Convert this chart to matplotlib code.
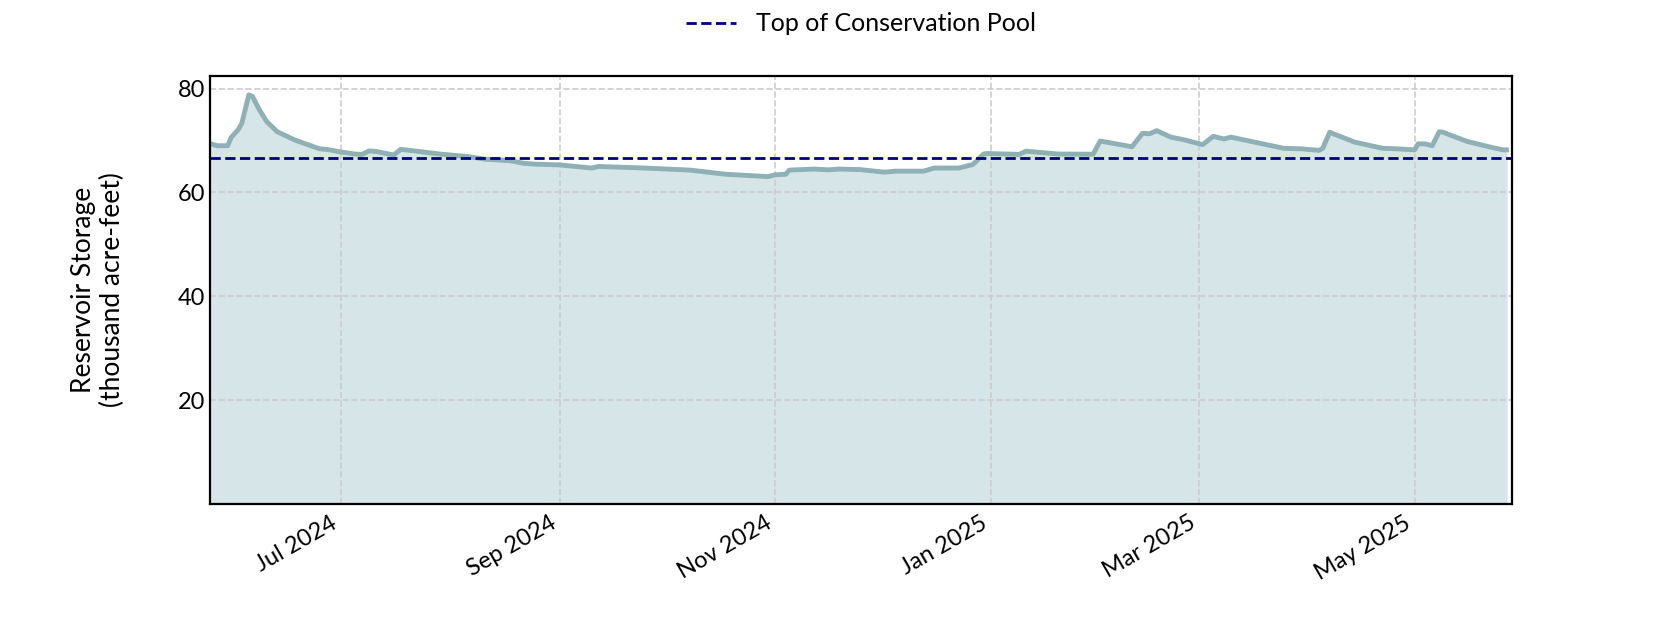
import numpy as np
import pandas as pd
import matplotlib
matplotlib.use('Agg')
import matplotlib.pyplot as plt
import matplotlib.dates as mdates

# storage (thousand acre-feet)
dates = [
    '2024-05-25', '2024-05-27', '2024-05-30', '2024-05-31', '2024-06-02', '2024-06-03',
    '2024-06-05', '2024-06-06', '2024-06-08', '2024-06-10', '2024-06-13', '2024-06-18',
    '2024-06-25', '2024-06-27', '2024-07-01', '2024-07-05', '2024-07-07', '2024-07-09',
    '2024-07-11', '2024-07-16', '2024-07-18', '2024-07-23', '2024-07-29', '2024-08-06',
    '2024-08-11', '2024-08-18', '2024-08-22', '2024-08-25', '2024-09-01', '2024-09-10',
    '2024-09-12', '2024-09-25', '2024-10-08', '2024-10-18', '2024-10-30', '2024-11-01',
    '2024-11-04', '2024-11-05', '2024-11-12', '2024-11-16', '2024-11-19', '2024-11-25',
    '2024-12-02', '2024-12-05', '2024-12-13', '2024-12-16', '2024-12-23', '2024-12-27',
    '2024-12-30', '2024-12-31', '2025-01-08', '2025-01-09', '2025-01-11', '2025-01-20',
    '2025-01-30', '2025-02-01', '2025-02-10', '2025-02-13', '2025-02-15', '2025-02-17',
    '2025-02-21', '2025-02-25', '2025-03-02', '2025-03-05', '2025-03-08', '2025-03-10',
    '2025-03-18', '2025-03-25', '2025-03-30', '2025-04-04', '2025-04-05', '2025-04-07',
    '2025-04-08', '2025-04-14', '2025-04-22', '2025-04-26', '2025-05-01', '2025-05-02',
    '2025-05-04', '2025-05-06', '2025-05-08', '2025-05-09', '2025-05-16', '2025-05-23',
    '2025-05-26', '2025-05-27',
]
storage = [
    69.4, 69.0, 69.0, 70.6, 72.1, 73.3,
    78.8, 78.5, 75.9, 73.7, 71.7, 70.1,
    68.4, 68.3, 67.8, 67.4, 67.3, 68.0,
    67.9, 67.2, 68.3, 67.9, 67.4, 66.9,
    66.4, 66.1, 65.6, 65.45, 65.3, 64.7,
    65.0, 64.7, 64.3, 63.5, 63.05, 63.4,
    63.5, 64.3, 64.5, 64.35, 64.5, 64.4,
    63.9, 64.1, 64.1, 64.7, 64.7, 65.4,
    67.4, 67.5, 67.35, 67.3, 67.95, 67.4,
    67.35, 69.9, 68.8, 71.4, 71.3, 71.9,
    70.65, 70.1, 69.2, 70.8, 70.3, 70.65,
    69.5, 68.5, 68.4, 68.1, 68.5, 71.6,
    71.3, 69.7, 68.5, 68.4, 68.2, 69.35,
    69.35, 69.0, 71.7, 71.6, 69.8, 68.65,
    68.2, 68.2,
]
top_of_conservation = 66.6

dates = pd.to_datetime(dates)
storage = np.array(storage)

plt.rcParams['font.family'] = ['Lato', 'DejaVu Sans']
plt.rcParams['font.size'] = 17

fig, ax = plt.subplots(figsize=(16.8, 6.3), dpi=100)

ax.fill_between(dates, 0, storage, color='#d6e5e8')
ax.plot(dates, storage, color='#8fb0b6', lw=3.5, solid_joinstyle='round')
ax.axhline(top_of_conservation, color='navy', ls='--', lw=2, label='Top of Conservation Pool')

ax.set_xlim(pd.Timestamp('2024-05-25'), pd.Timestamp('2025-05-28 14:00'))
ax.set_ylim(0, 82.5)
ax.set_yticks([20, 40, 60, 80])
ax.xaxis.set_major_locator(mdates.MonthLocator(bymonth=[1, 3, 5, 7, 9, 11]))
ax.xaxis.set_major_formatter(mdates.DateFormatter('%b %Y'))

ax.grid(True, ls='--', color='#cccccc', lw=1.2)
ax.tick_params(length=0)
ax.tick_params(axis='x', pad=6)
for s in ax.spines.values():
    s.set_linewidth(1.6)

ax.set_ylabel('Reservoir Storage\n(thousand acre-feet)', fontsize=19, labelpad=38)
ax.legend(loc='upper center', bbox_to_anchor=(0.5, 1.2), frameon=False, fontsize=18)

fig.autofmt_xdate()
fig.savefig('out.png')
